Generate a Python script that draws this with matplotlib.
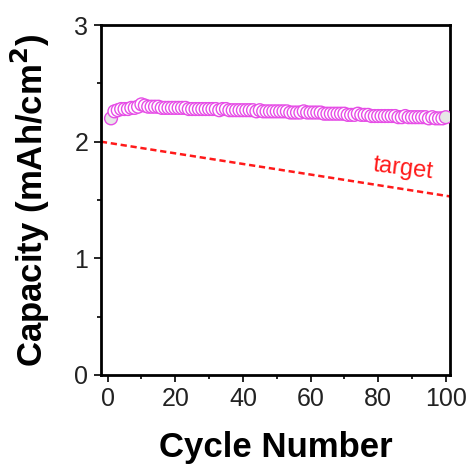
import numpy as np
import matplotlib
matplotlib.use('Agg')
import matplotlib.pyplot as plt

plt.rcParams['font.family'] = ['Liberation Sans', 'DejaVu Sans']

# capacity per cycle
cycles = list(range(1, 101))
capacity = [2.20, 2.26, 2.27, 2.28, 2.28, 2.28, 2.29, 2.29, 2.30, 2.32,
            2.31, 2.30, 2.30, 2.30, 2.30, 2.29, 2.29, 2.29, 2.29, 2.29,
            2.29, 2.29, 2.29, 2.28, 2.28, 2.28, 2.28, 2.28, 2.28, 2.28,
            2.28, 2.28, 2.27, 2.28, 2.28, 2.27, 2.27, 2.27, 2.27, 2.27,
            2.27, 2.27, 2.27, 2.26, 2.27, 2.26, 2.26, 2.26, 2.26, 2.26,
            2.26, 2.26, 2.26, 2.25, 2.25, 2.25, 2.25, 2.26, 2.25, 2.25,
            2.25, 2.25, 2.25, 2.24, 2.24, 2.24, 2.24, 2.24, 2.24, 2.24,
            2.23, 2.23, 2.23, 2.24, 2.23, 2.23, 2.23, 2.22, 2.22, 2.22,
            2.22, 2.22, 2.22, 2.22, 2.22, 2.21, 2.21, 2.22, 2.21, 2.21,
            2.21, 2.21, 2.21, 2.21, 2.20, 2.21, 2.20, 2.20, 2.20, 2.21]

target_cycle = [-2.0, 101.3]
target_cap = [2.00, 1.53]

fig = plt.figure(figsize=(4.67, 4.65), dpi=100)
ax = fig.add_axes([0.216, 0.194, 0.748, 0.752])

ax.plot(target_cycle, target_cap, color='#ff1a1a', ls=(0, (2.5, 1.5)), lw=1.8, zorder=2)
face = ['#e6e6e6'] + ['white'] * 98 + ['#e6e6e6']
ax.scatter(cycles, capacity, s=85, facecolors=face, edgecolors='#e64de6',
           linewidths=1.0, zorder=3)

ax.text(87.4, 1.77, 'target', color='#ff1a1a', fontsize=17, rotation=-7,
        ha='center', va='center')

ax.set_xlim(-2.0, 101.3)
ax.set_ylim(0, 3)
ax.set_xticks([0, 20, 40, 60, 80, 100])
ax.set_xticks([10, 30, 50, 70, 90], minor=True)
ax.set_yticks([0, 1, 2, 3])
ax.set_yticks([0.5, 1.5, 2.5], minor=True)
ax.tick_params(which='both', direction='out', width=1.2, labelsize=18,
               labelcolor='#222222')
ax.tick_params(which='major', length=5, pad=4)
ax.tick_params(which='minor', length=3)
for s in ax.spines.values():
    s.set_linewidth(2.0)

ax.set_xlabel('Cycle Number', fontsize=25, fontweight='bold', labelpad=14)
ax.set_ylabel('Capacity (mAh/cm$^\\mathbf{2}$)', fontsize=25, fontweight='bold', labelpad=16)

fig.savefig('out.png', dpi=100)
